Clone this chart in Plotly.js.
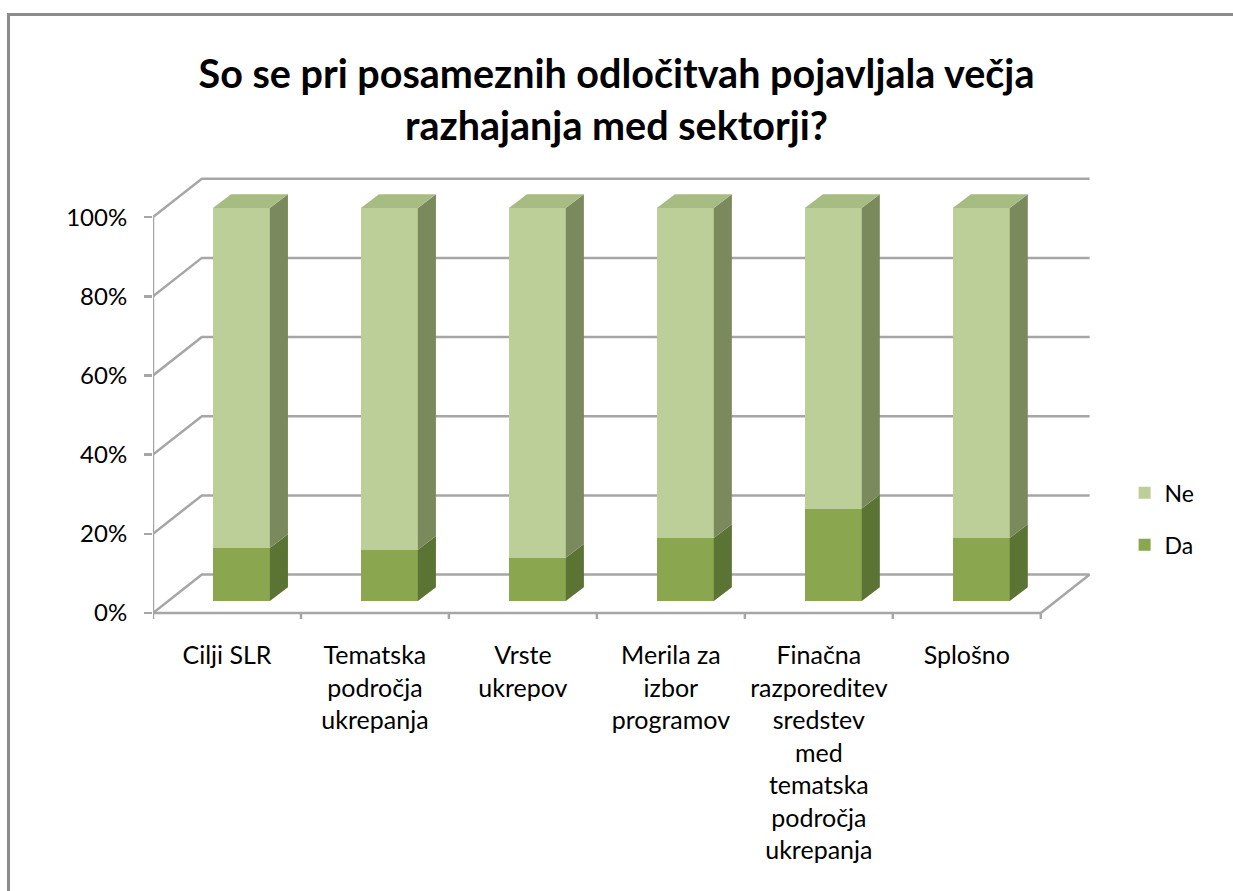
<!DOCTYPE html>
<html>
<head>
<meta charset="utf-8">
<script src="https://cdn.plot.ly/plotly-3.0.1.min.js"></script>
<style>
  html, body { margin: 0; padding: 0; background: #fff; }
  #wrap { position: relative; width: 1233px; height: 891px; overflow: hidden; }
  #chart { width: 1233px; height: 891px; }
  #frame { position: absolute; left: 7px; top: 13px; width: 1224px; height: 900px;
           border-left: 3px solid #8c8c8c; border-top: 3px solid #8c8c8c; pointer-events: none; }
</style>
</head>
<body>
<div id="wrap">
  <div id="chart"></div>
  <div id="frame"></div>
</div>
<script>
// ---- data ----
const categories = [
  "Cilji SLR",
  "Tematska<br>področja<br>ukrepanja",
  "Vrste<br>ukrepov",
  "Merila za<br>izbor<br>programov",
  "Finačna<br>razporeditev<br>sredstev<br>med<br>tematska<br>področja<br>ukrepanja",
  "Splošno"
];
const daValues = [13.5, 13, 11, 16, 23.5, 16];
const neValues = [86.5, 87, 89, 84, 76.5, 84];
const yTickVals = [0, 20, 40, 60, 80, 100];
const yTickText = ["0%", "20%", "40%", "60%", "80%", "100%"];

// ---- styles ----
const FONT = "Lato, 'Open Sans', sans-serif";
const daFront = "#8aa64f", daSide = "#5b7333";
const neFront = "#bccf99", neSide = "#7b8a5c", neTop = "#a7bc82";
const gridCol = "#a6a6a6";

const BAR_OFF = -0.095, BAR_W = 0.385;   // bar placement within category
const DXB = 0.122, DYB = 3.5;            // bar depth (x units, y2 units)
const DXW = 0.33, DYW = 9.7;             // back wall offset (x units, y units)
const XMIN = -0.5, XMAX = 5.9;
const nCat = categories.length;

const traces = [
  { type: "bar", name: "Da", x: categories, y: daValues, yaxis: "y2",
    offset: BAR_OFF, width: BAR_W, marker: { color: daFront, line: { width: 0 } },
    legendgroup: "da", legendrank: 2, hoverinfo: "x+y" },
  { type: "bar", name: "Ne", x: categories, y: neValues, yaxis: "y2",
    offset: BAR_OFF, width: BAR_W, marker: { color: neFront, line: { width: 0 } },
    legendgroup: "ne", legendrank: 1, hoverinfo: "x+y" }
];

const shapes = [];
// back wall gridlines with diagonal connectors
yTickVals.forEach(v => {
  shapes.push({ type: "path", xref: "x", yref: "y", layer: "below",
    path: `M ${-0.5},${v} L ${-0.5 + DXW},${v + DYW} L ${nCat - 0.5 + DXW},${v + DYW}`,
    line: { color: gridCol, width: 2.5 } });
});
// floor right edge
shapes.push({ type: "path", xref: "x", yref: "y", layer: "below",
  path: `M ${nCat - 0.5},0 L ${nCat - 0.5 + DXW},${DYW}`, line: { color: gridCol, width: 2.5 } });
// floor front edge (x axis line) and y axis line
shapes.push({ type: "line", xref: "x", yref: "y", x0: -0.5, x1: nCat - 0.5, y0: 0, y1: 0,
  line: { color: gridCol, width: 2.5 }, layer: "below" });
shapes.push({ type: "line", xref: "x", yref: "y", x0: -0.5, x1: -0.5, y0: 0, y1: 100,
  line: { color: gridCol, width: 2.5 }, layer: "below" });
// x-axis boundary ticks
for (let i = 0; i <= nCat; i++) {
  shapes.push({ type: "line", xref: "x", yref: "paper", x0: i - 0.5, x1: i - 0.5,
    y0: 0.037, y1: 0.024, line: { color: gridCol, width: 2.5 } });
}
// 3D faces of bars
for (let i = 0; i < nCat; i++) {
  const xr = i + BAR_OFF + BAR_W, xl = i + BAR_OFF;
  const segs = [[0, daValues[i], daSide], [daValues[i], daValues[i] + neValues[i], neSide]];
  segs.forEach(([y0, y1, c]) => {
    shapes.push({ type: "path", xref: "x", yref: "y2", layer: "above",
      path: `M ${xr},${y0} L ${xr + DXB},${y0 + DYB} L ${xr + DXB},${y1 + DYB} L ${xr},${y1} Z`,
      fillcolor: c, line: { width: 0 } });
  });
  const top = daValues[i] + neValues[i];
  shapes.push({ type: "path", xref: "x", yref: "y2", layer: "above",
    path: `M ${xl},${top} L ${xl + DXB},${top + DYB} L ${xr + DXB},${top + DYB} L ${xr},${top} Z`,
    fillcolor: neTop, line: { width: 0 } });
}

const layout = {
  width: 1233, height: 891,
  margin: { l: 153, r: 133, t: 170, b: 261 },
  paper_bgcolor: "#ffffff", plot_bgcolor: "rgba(0,0,0,0)",
  barmode: "stack", bargap: 0,
  font: { family: FONT, color: "#000", size: 24 },
  title: { text: "So se pri posameznih odločitvah pojavljala večja<br>razhajanja med sektorji?",
    x: 0.5, xref: "container", y: 0.901, yref: "container", yanchor: "middle",
    font: { family: FONT, size: 39.5, weight: 700, color: "#000" } },
  xaxis: { type: "category", range: [XMIN, XMAX], showgrid: false, zeroline: false, showline: false,
    ticks: "", tickfont: { family: FONT, size: 25, color: "#000" }, ticklabelstandoff: 8,
    fixedrange: true },
  yaxis: { range: [-4.3, 111.9], tickvals: yTickVals, ticktext: yTickText, showgrid: false,
    zeroline: false, showline: false, ticks: "outside", ticklen: 8, tickwidth: 2.5, tickcolor: gridCol,
    ticklabelstandoff: 12,
    tickfont: { family: FONT, size: 24, color: "#000" }, fixedrange: true },
  yaxis2: { overlaying: "y", range: [-7.4, 109.7], visible: false, fixedrange: true },
  legend: { x: 1.026, xanchor: "left", y: 0.345, yanchor: "top", traceorder: "grouped",
    tracegroupgap: 19, font: { family: FONT, size: 23, color: "#000" }, itemwidth: 30 },
  shapes: shapes,
  showlegend: true
};

Plotly.newPlot("chart", traces, layout, { displayModeBar: false, staticPlot: true });
</script>
</body>
</html>
